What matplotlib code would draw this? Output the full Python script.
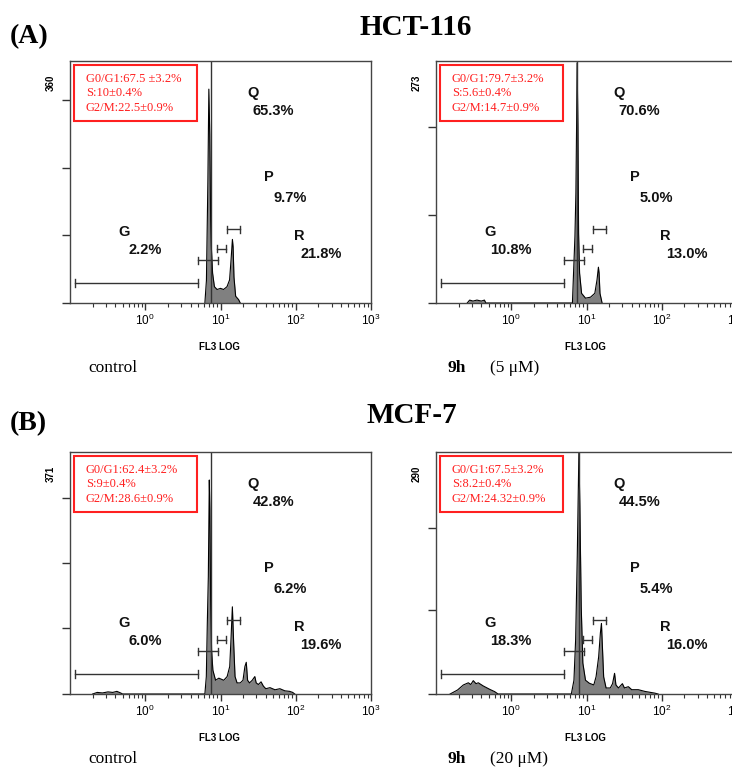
import matplotlib
matplotlib.use("Agg")
import matplotlib.pyplot as plt
from matplotlib.patches import Rectangle
from matplotlib.ticker import LogLocator, NullFormatter, FixedLocator

plt.rcParams['font.family'] = ['Liberation Sans', 'DejaVu Sans']

# histogram data (channel, count)
a1_x = [6.2, 6.5, 6.8, 7.0, 7.2, 7.4, 7.55, 7.85, 8.3, 9.0, 10, 11, 12.2, 13.2, 13.8, 14.4, 14.7, 15.1, 15.9, 17.4, 18.3]
a1_y = [0, 40, 218, 380, 300, 147, 100, 53, 29, 24, 26, 24, 29, 41, 76, 113, 100, 46, 12, 6, 0]

a2_x = [0.26, 0.28, 0.31, 0.35, 0.40, 0.44, 0.46,
        6.5, 7.02, 7.23, 7.39, 7.5, 7.69, 7.85, 8.09, 8.6, 9.7, 11.3, 12.9, 13.8, 14.4, 14.7, 15.1, 15.8, 16.1]
a2_y = [0, 3, 2, 3, 2, 3, 0,
        0, 69, 114, 186, 248, 182, 72, 31, 10, 5, 6, 10, 24, 37, 31, 10, 3, 0]

b1_x = [0.2, 0.23, 0.27, 0.32, 0.37, 0.42, 0.47, 0.5,
        6.2, 6.48, 6.68, 6.89, 7.1, 7.23, 7.39, 7.61, 7.92, 8.6, 9.5, 11.05, 12.25, 13.26, 13.83, 14.38,
        14.96, 15.6, 16.6, 18.3, 19.9, 21.1, 22.0, 22.9, 24.3, 26.4, 28.6, 29.8, 31.9, 34.6, 37.1, 40,
        45.5, 53, 61.5, 71.7, 83, 91, 97]
b1_y = [0, 3, 2, 4, 3, 5, 2, 0,
        0, 33, 134, 222, 405, 348, 178, 83, 45, 26, 30, 26, 33, 52, 108, 165,
        96, 33, 21, 21, 26, 52, 60, 26, 21, 26, 33, 21, 18, 23, 15, 10,
        12, 8, 10, 6, 5, 3, 0]

b2_x = [0.154, 0.193, 0.231, 0.269, 0.29, 0.313, 0.34, 0.365, 0.425, 0.518, 0.603, 0.668,
        6.29, 6.81, 7.17, 7.54, 7.78, 7.92, 8.16, 8.51, 8.94, 9.7, 10.9, 12.5, 13.4, 14.5, 15.3, 15.8,
        16.2, 16.9, 18.2, 20.7, 22.2, 23.6, 24.6, 26.6, 30.0, 31.9, 36.0, 39.9, 48.8, 59.7, 80.9, 89.4]
b2_y = [0, 4.6, 10.5, 13, 11, 15.5, 12, 13, 9.3, 5.4, 2.7, 0,
        0, 16, 63, 160, 237, 280, 218, 101, 36, 16, 12.5, 10.5, 20, 43, 71, 82,
        59, 20, 7, 7, 12, 24, 10.5, 7, 12, 7, 8.5, 5, 5, 3, 1, 0]

hist_x = [a1_x, a2_x, b1_x, b2_x]
hist_y = [a1_y, a2_y, b1_y, b2_y]
y_max_labels = ["360", "273", "371", "290"]
y_max = [430, 250, 458, 281]
y_ticks = [[0, 120, 240, 360], [0, 91, 182], [0, 124, 248, 371], [0, 97, 193]]
marker_line = [7.4, 7.45, 7.4, 7.92]
x_decades = [1, 10, 100, 1000]

# gates: low, high, height (axes fraction)
gate_lo = [0.117, 5.1, 9.05, 12.05]
gate_hi = [5.0, 9.3, 12.0, 18.1]
gate_h = [0.083, 0.176, 0.225, 0.305]

pct_G = ["2.2%", "10.8%", "6.0%", "18.3%"]
pct_Q = ["65.3%", "70.6%", "42.8%", "44.5%"]
pct_P = ["9.7%", "5.0%", "6.2%", "5.4%"]
pct_R = ["21.8%", "13.0%", "19.6%", "16.0%"]

box_text = [
    ["G0/G1:67.5 \u00b13.2%", "S:10\u00b10.4%", "G2/M:22.5\u00b10.9%"],
    ["G0/G1:79.7\u00b13.2%", "S:5.6\u00b10.4%", "G2/M:14.7\u00b10.9%"],
    ["G0/G1:62.4\u00b13.2%", "S:9\u00b10.4%", "G2/M:28.6\u00b10.9%"],
    ["G0/G1:67.5\u00b13.2%", "S:8.2\u00b10.4%", "G2/M:24.32\u00b10.9%"],
]
cond_bold = ["", "9h", "", "9h"]
cond_text = ["control", "(5 \u03bcM)", "control", "(20 \u03bcM)"]

W, H = 732, 769
fig = plt.figure(figsize=(W / 100, H / 100), dpi=100)

positions = [(70, 61), (436, 61), (70, 452), (436, 452)]
aw, ah = 301, 242

serif = ['Liberation Serif', 'DejaVu Serif']

for i, (px, py) in enumerate(positions):
    ax = fig.add_axes([px / W, 1 - (py + ah) / H, aw / W, ah / H])
    ax.set_xscale('log')
    ax.set_xlim(0.1, 1000)
    ax.set_ylim(0, y_max[i])

    ax.fill_between(hist_x[i], hist_y[i], 0, color='#808080', lw=0)
    ax.plot(hist_x[i], hist_y[i], color='black', lw=0.8)
    ax.axvline(marker_line[i], color='#333333', lw=1.0)

    tr = ax.get_xaxis_transform()
    for lo, hi, h in zip(gate_lo, gate_hi, gate_h):
        ax.plot([lo, hi], [h, h], color='#333333', lw=1.0, transform=tr)
        for xe in (lo, hi):
            ax.plot([xe, xe], [h - 0.015, h + 0.015], color='#333333', lw=1.0, transform=tr)

    kw = dict(transform=ax.transAxes, ha='center', va='center', fontsize=10.5, fontweight='bold', color='#111111')
    ax.text(0.608, 0.868, "Q", **kw)
    ax.text(0.676, 0.793, pct_Q[i], **kw)
    ax.text(0.661, 0.521, "P", **kw)
    ax.text(0.732, 0.434, pct_P[i], **kw)
    ax.text(0.179, 0.293, "G", **kw)
    ax.text(0.249, 0.219, pct_G[i], **kw)
    ax.text(0.760, 0.277, "R", **kw)
    ax.text(0.834, 0.202, pct_R[i], **kw)

    ax.add_patch(Rectangle((0.013, 0.752), 0.409, 0.231, transform=ax.transAxes,
                           fill=False, edgecolor='#ff2020', lw=1.5))
    for k, line in enumerate(box_text[i]):
        ax.text(0.053, 0.926 - 0.06 * k, line, transform=ax.transAxes, ha='left', va='center',
                fontsize=9, color='#ff2020', family=serif)

    ax.text(-0.063, 0.91, y_max_labels[i], transform=ax.transAxes, rotation=90,
            ha='center', va='center', fontsize=7, fontweight='bold')

    ax.set_yticks(y_ticks[i])
    ax.set_yticklabels([])
    ax.tick_params(axis='y', direction='out', length=6, width=1, color='#333333')
    ax.xaxis.set_major_locator(FixedLocator(x_decades))
    ax.xaxis.set_minor_locator(LogLocator(base=10, subs=range(2, 10), numticks=20))
    ax.xaxis.set_minor_formatter(NullFormatter())
    ax.tick_params(axis='x', which='major', direction='out', length=5, width=1, labelsize=8.5, pad=2, color='#333333')
    ax.tick_params(axis='x', which='minor', direction='out', length=3, width=0.8, color='#333333')
    for sp in ax.spines.values():
        sp.set_color('#444444')
        sp.set_linewidth(1.0)

    ax.text(0.498, -0.18, "FL3 LOG", transform=ax.transAxes, ha='center', va='center',
            fontsize=7, fontweight='bold')
    if cond_bold[i]:
        ax.text(0.037, -0.27, cond_bold[i], transform=ax.transAxes, ha='left', va='center',
                fontsize=12.5, fontweight='bold', family=serif)
        ax.text(0.18, -0.27, cond_text[i], transform=ax.transAxes, ha='left', va='center',
                fontsize=12.5, family=serif)
    else:
        ax.text(0.06, -0.27, cond_text[i], transform=ax.transAxes, ha='left', va='center',
                fontsize=12.5, family=serif)

fig.text(10 / W, 1 - 43 / H, "(A)", ha='left', va='baseline', fontsize=20, fontweight='bold', family=serif)
fig.text(416 / W, 1 - 35 / H, "HCT-116", ha='center', va='baseline', fontsize=21, fontweight='bold', family=serif)
fig.text(10 / W, 1 - 430 / H, "(B)", ha='left', va='baseline', fontsize=20, fontweight='bold', family=serif)
fig.text(412 / W, 1 - 423 / H, "MCF-7", ha='center', va='baseline', fontsize=21, fontweight='bold', family=serif)

fig.savefig("out.png", dpi=100)
